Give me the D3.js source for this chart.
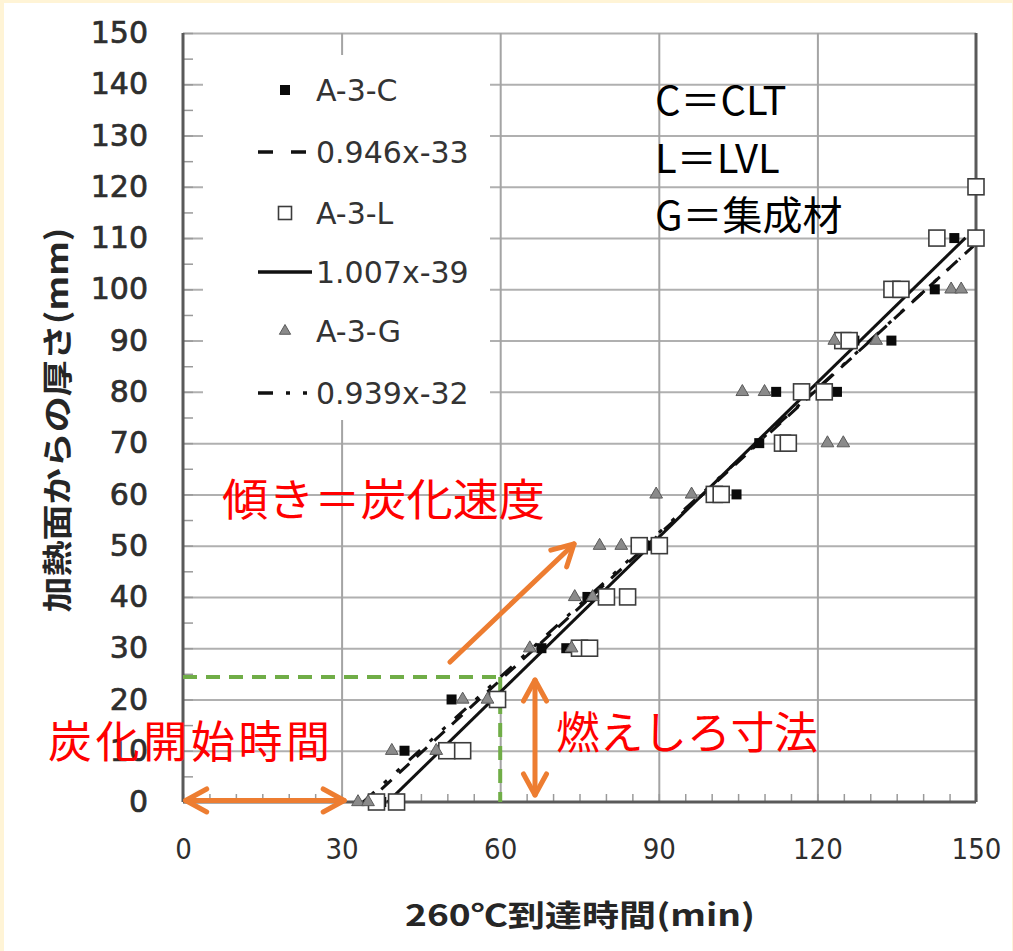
<!DOCTYPE html>
<html>
<head>
<meta charset="utf-8">
<script src="https://cdn.jsdelivr.net/npm/d3@7"></script>
<style>
  html, body { margin: 0; padding: 0; background: #ffffff; }
</style>
</head>
<body>
<div id="chart"></div>
<script>
// Char depth vs. time to reach 260 °C — CLT / LVL / glulam (A-3 series).

const xTicks = [0, 30, 60, 90, 120, 150];
const yTicks = [0, 10, 20, 30, 40, 50, 60, 70, 80, 90, 100, 110, 120, 130, 140, 150];

// [minutes to 260°C, depth from heated face (mm)]
const seriesC = [
  [37.5, 0], [41.9, 10], [50.8, 20], [67.8, 30], [72.5, 30], [76.5, 40], [88, 50],
  [104.7, 60], [109, 70], [112.2, 80], [123.7, 80], [127, 90], [134, 90],
  [142.2, 100], [145.9, 110]
];
const seriesL = [
  [36.6, 0], [40.4, 0], [49.9, 10], [52.9, 10], [59.5, 20], [75, 30], [76.9, 30],
  [80.1, 40], [84.1, 40], [86.3, 50], [90.1, 50], [100.5, 60], [101.8, 60],
  [113.4, 70], [114.5, 70], [117, 80], [121.3, 80], [124.8, 90], [126, 90],
  [134.1, 100], [135.8, 100], [142.6, 110], [150, 110], [150, 120]
];
const seriesG = [
  [33.1, 0], [35, 0], [39.5, 10], [47.9, 10], [52.9, 20], [57.6, 20], [65.6, 30],
  [73.5, 30], [74.1, 40], [77.5, 40], [78.8, 50], [82.9, 50], [89.5, 60], [96.2, 60],
  [121.9, 70], [124.9, 70], [105.8, 80], [110, 80], [123.2, 90], [131.1, 90],
  [145.3, 100], [147.2, 100]
];

// trend lines y = a·x + b, drawn over [from, to]
const trendSlopes = [0.946, 1.007, 0.939];
const trendIntercepts = [-33, -39, -32];
const trendFrom = [37.5, 38.7, 34.1];
const trendTo = [149.5, 148, 147];

const legendLabels = ["A-3-C", "0.946x-33", "A-3-L", "1.007x-39", "A-3-G", "0.939x-32"];
const legendNotes = ["C＝CLT", "L＝LVL", "G＝集成材"];

const W = 1013, H = 951;
const x = d3.scaleLinear().domain([0, 150]).range([183, 976]);
const y = d3.scaleLinear().domain([0, 150]).range([802, 33]);

const CJK = "'Noto Sans CJK JP', 'Noto Sans', sans-serif";
const ORANGE = "#ed7d31";
const GREEN = "#70ad47";

const svg = d3.select("#chart").append("svg")
  .attr("width", W).attr("height", H)
  .attr("viewBox", `0 0 ${W} ${H}`)
  .style("display", "block");

// page frame: thin cream border like the slide background
svg.append("rect").attr("width", W).attr("height", H).attr("fill", "#fff4d6");
svg.append("rect").attr("x", 4).attr("y", 3).attr("width", W - 5).attr("height", H - 3).attr("fill", "#ffffff");

// ---- gridlines
svg.append("g")
  .attr("transform", `translate(${x(0)},0)`)
  .call(d3.axisLeft(y).tickValues(yTicks.slice(1)).tickSize(-(x(150) - x(0))).tickFormat(""))
  .call(g => g.select(".domain").remove())
  .call(g => g.selectAll("line").attr("stroke", "#b0b0b0").attr("stroke-width", 2));

svg.append("g")
  .attr("transform", `translate(0,${y(0)})`)
  .call(d3.axisBottom(x).tickValues(xTicks.slice(1, -1)).tickSize(-(y(0) - y(150))).tickFormat(""))
  .call(g => g.select(".domain").remove())
  .call(g => g.selectAll("line").attr("stroke", "#a4a4a4").attr("stroke-width", 2));

// ---- minor ticks (inside)
const minor = d3.range(0, 151, 5);
svg.append("g")
  .attr("transform", `translate(${x(0)},0)`)
  .call(d3.axisRight(y).tickValues(minor).tickSize(10).tickFormat(""))
  .call(g => g.select(".domain").remove())
  .call(g => g.selectAll("line").attr("stroke", "#9a9a9a").attr("stroke-width", 1.5));
svg.append("g")
  .attr("transform", `translate(0,${y(0)})`)
  .call(d3.axisTop(x).tickValues(minor).tickSize(8).tickFormat(""))
  .call(g => g.select(".domain").remove())
  .call(g => g.selectAll("line").attr("stroke", "#9a9a9a").attr("stroke-width", 1.5));

// ---- axis lines / plot border
const frame = svg.append("g").attr("fill", "none").attr("stroke", "#5a5a5a").attr("stroke-width", 3);
frame.append("line").attr("x1", x(0)).attr("x2", x(0)).attr("y1", y(150)).attr("y2", y(0));
frame.append("line").attr("x1", x(0)).attr("x2", x(150)).attr("y1", y(0)).attr("y2", y(0));
frame.append("line").attr("x1", x(150)).attr("x2", x(150)).attr("y1", y(150)).attr("y2", y(0));

// ---- tick labels
svg.append("g")
  .attr("transform", `translate(${x(0)},0)`)
  .call(d3.axisLeft(y).tickValues(yTicks).tickSize(0).tickPadding(35))
  .call(g => g.select(".domain").remove())
  .call(g => g.selectAll("text")
    .attr("font-family", "'DejaVu Sans', sans-serif")
    .attr("font-size", 30)
    .attr("fill", "#2e2e2e")
    .attr("stroke", "#2e2e2e").attr("stroke-width", 0.7));

svg.append("g")
  .attr("transform", `translate(0,${y(0)})`)
  .call(d3.axisBottom(x).tickValues(xTicks).tickSize(0).tickPadding(36))
  .call(g => g.select(".domain").remove())
  .call(g => g.selectAll("text")
    .attr("font-family", "'DejaVu Sans Condensed', 'DejaVu Sans', sans-serif")
    .attr("font-size", 29)
    .attr("fill", "#2e2e2e"));

// ---- axis titles
svg.append("text")
  .attr("transform", "translate(55,420) rotate(-90)")
  .attr("text-anchor", "middle").attr("dominant-baseline", "central")
  .attr("font-family", CJK).attr("font-weight", 700).attr("font-size", 30)
  .attr("fill", "#262626")
  .attr("textLength", 385).attr("lengthAdjust", "spacingAndGlyphs")
  .text("加熱面からの厚さ(mm)");

svg.append("text")
  .attr("x", 580).attr("y", 913)
  .attr("text-anchor", "middle").attr("dominant-baseline", "central")
  .attr("font-family", CJK).attr("font-weight", 700).attr("font-size", 30)
  .attr("fill", "#262626")
  .attr("textLength", 350).attr("lengthAdjust", "spacingAndGlyphs")
  .text("260℃到達時間(min)");

// ---- legend box (hides gridlines behind it)
svg.append("rect").attr("x", 203).attr("y", 55).attr("width", 287).attr("height", 365).attr("fill", "#ffffff");

// ---- green guide (char start → 25 mm)
const guide = svg.append("g").attr("stroke", GREEN).attr("stroke-width", 4)
  .attr("stroke-dasharray", "14,9").attr("fill", "none");
guide.append("line").attr("x1", x(0)).attr("x2", x(60)).attr("y1", y(24.4)).attr("y2", y(24.4));
guide.append("line").attr("x1", x(60)).attr("x2", x(60)).attr("y1", y(24.4)).attr("y2", y(0));

// ---- trend lines
const dashes = ["14,10", null, "15,13,4,13,4,13"];
trendSlopes.forEach((a, i) => {
  const b = trendIntercepts[i];
  svg.append("line")
    .attr("x1", x(trendFrom[i])).attr("y1", y(a * trendFrom[i] + b))
    .attr("x2", x(trendTo[i])).attr("y2", y(a * trendTo[i] + b))
    .attr("stroke", "#111111").attr("stroke-width", 3)
    .attr("stroke-dasharray", dashes[i]);
});

// ---- markers
const tri = d3.symbol().type(d3.symbolTriangle);

function drawFilled(g, px, py, s) {
  g.append("rect").attr("x", px - s / 2).attr("y", py - s / 2).attr("width", s).attr("height", s)
    .attr("fill", "#0a0a0a");
}
function drawOpen(g, px, py, s) {
  g.append("rect").attr("x", px - s / 2).attr("y", py - s / 2).attr("width", s).attr("height", s)
    .attr("fill", "#ffffff").attr("stroke", "#3c3c3c").attr("stroke-width", 1.6);
}
function drawTri(g, px, py, size) {
  g.append("path").attr("d", tri.size(size)()).attr("transform", `translate(${px},${py})`)
    .attr("fill", "#8a8a8a").attr("stroke", "#5a5a5a").attr("stroke-width", 1);
}

const gPts = svg.append("g");
seriesC.forEach(d => drawFilled(gPts, x(d[0]), y(d[1]), 10));
seriesL.forEach(d => drawOpen(gPts, x(d[0]), y(d[1]), 16));
seriesG.forEach(d => drawTri(gPts, x(d[0]), y(d[1]), 70));

// ---- legend entries
const legendRowY = [90, 152, 213, 272, 331, 393];
const gLeg = svg.append("g");
drawFilled(gLeg, 285, legendRowY[0], 10);
drawOpen(gLeg, 285, legendRowY[2], 13);
drawTri(gLeg, 285, legendRowY[4], 55);
[1, 3, 5].forEach((row, k) => {
  gLeg.append("line")
    .attr("x1", 258).attr("x2", 312).attr("y1", legendRowY[row]).attr("y2", legendRowY[row])
    .attr("stroke", "#111111").attr("stroke-width", 3.5)
    .attr("stroke-dasharray", k === 0 ? "15,18" : dashes[k]);
});
legendLabels.forEach((t, i) => {
  gLeg.append("text")
    .attr("x", 316).attr("y", legendRowY[i]).attr("dy", "0.36em")
    .attr("font-family", "'DejaVu Sans', sans-serif").attr("font-size", 30)
    .attr("fill", "#333333")
    .text(t);
});

// ---- material key
legendNotes.forEach((t, i) => {
  svg.append("text")
    .attr("x", 655).attr("y", [115, 173, 230][i])
    .attr("font-family", CJK).attr("font-size", 40).attr("fill", "#000000")
    .text(t);
});

// ---- orange arrows
const arrows = svg.append("g").attr("stroke", ORANGE).attr("stroke-width", 5)
  .attr("fill", "none").attr("stroke-linecap", "round").attr("stroke-linejoin", "round");

function head(tx, ty, fx, fy) {
  const ang = Math.atan2(ty - fy, tx - fx);
  const L = 24, spread = 0.5;
  const p1 = [tx - L * Math.cos(ang - spread), ty - L * Math.sin(ang - spread)];
  const p2 = [tx - L * Math.cos(ang + spread), ty - L * Math.sin(ang + spread)];
  arrows.append("path").attr("d", `M${p1}L${tx},${ty}L${p2}`);
}
function arrow(x1, y1, x2, y2, both) {
  arrows.append("line").attr("x1", x1).attr("y1", y1).attr("x2", x2).attr("y2", y2);
  head(x2, y2, x1, y1);
  if (both) head(x1, y1, x2, y2);
}
arrow(x(0.5), y(0.3), x(30.5), y(0.3), true);
arrow(535, 680, 535, 795, true);
arrow(450, 662, 574, 544, false);

// ---- red notes
const notes = svg.append("g").attr("font-family", CJK).attr("font-size", 44).attr("fill", "#ff0000");
notes.append("text").attr("x", 222).attr("y", 516)
  .attr("textLength", 323).attr("lengthAdjust", "spacingAndGlyphs").text("傾き＝炭化速度");
notes.append("text").attr("x", 48).attr("y", 758)
  .attr("textLength", 282).attr("lengthAdjust", "spacing").text("炭化開始時間");
notes.append("text").attr("x", 556).attr("y", 749)
  .attr("textLength", 262).attr("lengthAdjust", "spacingAndGlyphs").text("燃えしろ寸法");
</script>
</body>
</html>
